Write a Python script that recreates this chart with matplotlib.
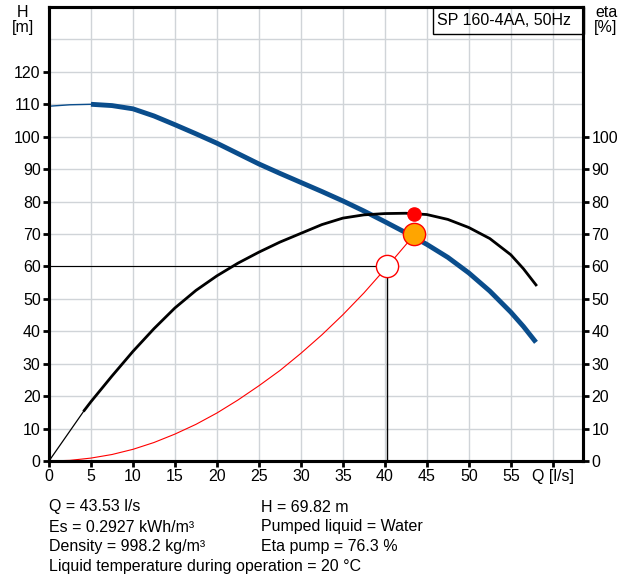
import numpy as np
import matplotlib.pyplot as plt

plt.rcParams['font.family'] = ['Liberation Sans', 'DejaVu Sans']

# pump curve H(Q)
q_head = [0, 2.5, 5, 7.5, 10, 12.5, 15, 17.5, 20, 22.5, 25, 27.5, 30, 32.5,
          35, 37.5, 40, 42.5, 45, 47.5, 50, 52.5, 55, 56.5, 58]
head = [109.4, 109.85, 110, 109.6, 108.6, 106.4, 103.7, 100.9, 98.0, 94.8, 91.6, 88.7, 85.9, 83.1,
        80.2, 77.1, 73.8, 70.4, 66.8, 62.8, 58.0, 52.4, 45.9, 41.5, 36.6]

# efficiency curve eta(Q)
q_eta = [0, 4.2, 5, 7.5, 10, 12.5, 15, 17.5, 20, 22.5, 25, 27.5, 30, 32.5,
         35, 37.5, 40, 42.5, 45, 47.5, 50, 52.5, 55, 56.5, 58]
eta = [0, 15.6, 18.3, 26.2, 33.8, 40.8, 47.2, 52.6, 57.1, 61.0, 64.4, 67.5, 70.2, 72.9,
       74.9, 75.9, 76.3, 76.4, 76.0, 74.5, 72.0, 68.6, 63.6, 59.3, 54.3]

# system curve
q_sys = [0, 2.5, 5, 7.5, 10, 12.5, 15, 17.5, 20, 22.5, 25, 27.5, 30, 32.5, 35, 37.5, 40.3, 43.53]
h_sys = [0, 0.2, 0.9, 2.0, 3.6, 5.7, 8.3, 11.3, 14.8, 18.8, 23.2, 27.9, 33.2, 38.9, 45.1, 51.8, 60.0, 69.82]

duty_q, duty_h, duty_eta = 43.5, 69.9, 76.3
req_q, req_h = 40.3, 60.0

info_left = ['Q = 43.53 l/s', 'Es = 0.2927 kWh/m³', 'Density = 998.2 kg/m³',
             'Liquid temperature during operation = 20 °C']
info_right = ['H = 69.82 m', 'Pumped liquid = Water', 'Eta pump = 76.3 %']

fs = 11.5
fig = plt.figure(figsize=(6.29, 5.77), dpi=100)
W, H = 629, 577
ax = fig.add_axes([49 / W, (H - 461) / H, (583 - 49) / W, (461 - 7) / H])

ax.set_xlim(0, 63.6)
ax.set_ylim(0, 140)
ax.set_xticks(np.arange(0, 61, 5))
ax.set_xticklabels([str(v) for v in range(0, 56, 5)] + ['Q [l/s]'])
ax.set_yticks(np.arange(0, 121, 10))
ax.grid(True, color='#d0d4d8', lw=1.0)
ax.axhline(130, color='#d0d4d8', lw=1.0, zorder=0)
ax.set_axisbelow(True)
for s in ax.spines.values():
    s.set_linewidth(2.2)
ax.tick_params(length=4, width=2, labelsize=fs, pad=2)

blue = '#0a4d8c'
ax.plot(q_head[:3], head[:3], color=blue, lw=1.0)
ax.plot(q_head[2:], head[2:], color=blue, lw=3.5, solid_capstyle='butt', solid_joinstyle='round')
ax.plot(q_eta[:2], eta[:2], color='black', lw=0.9)
ax.plot(q_eta[1:], eta[1:], color='black', lw=2.0, solid_joinstyle='round')
ax.plot(q_sys, h_sys, color='red', lw=0.8)

ax.plot([0, req_q], [req_h, req_h], color='black', lw=0.8)
ax.plot([req_q, req_q], [0, req_h], color='black', lw=1.0)

ax.plot(req_q, req_h, 'o', ms=16, mfc='white', mec='red', mew=1.0, zorder=5)
ax.plot(duty_q, duty_h, 'o', ms=16, mfc='#ffa500', mec='red', mew=1.0, zorder=6)
ax.plot(duty_q, duty_eta, 'o', ms=9.5, mfc='red', mec='red', zorder=6)

ax2 = ax.twinx()
ax2.set_ylim(0, 140)
ax2.set_yticks(np.arange(0, 101, 10))
for s in ax2.spines.values():
    s.set_linewidth(2.2)
ax2.tick_params(length=4, width=2, labelsize=fs, pad=2)

fig.text(23 / W, 1 - 5 / H, 'H\n[m]', ha='center', va='top', fontsize=fs, linespacing=1.0)
fig.text(606 / W, 1 - 5 / H, 'eta\n[%]', ha='center', va='top', fontsize=fs, linespacing=1.0)
fig.text(437 / W, 1 - 20.5 / H, 'SP 160-4AA, 50Hz', ha='left', va='center', fontsize=fs)
fig.patches.append(plt.Rectangle((433 / W, 1 - 34 / H), (584 - 433) / W, 27 / H,
                                 transform=fig.transFigure, fill=False, ec='black', lw=1.0))

for i, t in enumerate(info_left):
    fig.text(49 / W, 1 - (507 + 20 * i) / H, t, ha='left', va='center', fontsize=fs)
for i, t in enumerate(info_right):
    fig.text(261 / W, 1 - (507 + 20 * i) / H, t, ha='left', va='center', fontsize=fs)

fig.savefig('out.png', dpi=100)
